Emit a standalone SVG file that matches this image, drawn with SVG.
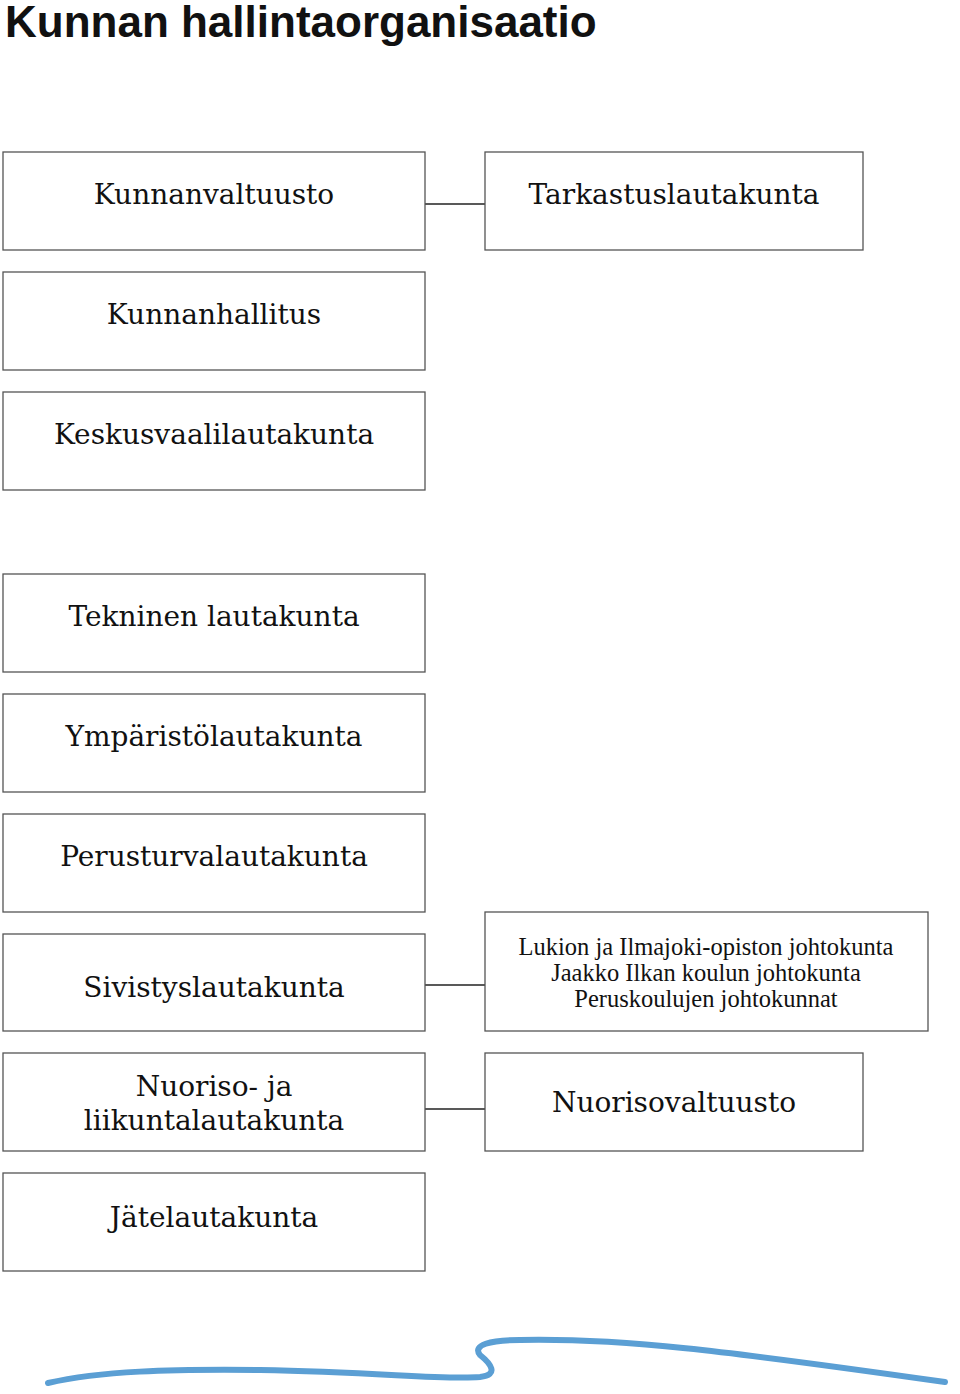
<svg xmlns="http://www.w3.org/2000/svg" width="960" height="1394" viewBox="0 0 960 1394">
<style>
.b{fill:#fff;stroke:#555;stroke-width:1.3}
.t{font-family:"DejaVu Serif",serif;font-size:28px;fill:#111;text-anchor:middle}
.s{font-family:"Liberation Serif",serif;font-size:24.5px;fill:#111;text-anchor:middle}
.c{stroke:#222;stroke-width:1.5;fill:none}
</style>
<rect width="960" height="1394" fill="#fff"/>
<text x="5" y="37" font-family="Liberation Sans,Arial,sans-serif" font-weight="bold" font-size="44" fill="#111">Kunnan hallintaorganisaatio</text>
<g id="connectors">
<line class="c" x1="425" y1="204" x2="485" y2="204"/>
<line class="c" x1="425" y1="985" x2="485" y2="985"/>
<line class="c" x1="425" y1="1109" x2="485" y2="1109"/>
</g>
<g id="n1"><rect class="b" x="3" y="152" width="422" height="98"/><text class="t" x="214" y="204">Kunnanvaltuusto</text></g>
<g id="n2"><rect class="b" x="485" y="152" width="378" height="98"/><text class="t" x="674" y="204">Tarkastuslautakunta</text></g>
<g id="n3"><rect class="b" x="3" y="272" width="422" height="98"/><text class="t" x="214" y="324">Kunnanhallitus</text></g>
<g id="n4"><rect class="b" x="3" y="392" width="422" height="98"/><text class="t" x="214" y="444">Keskusvaalilautakunta</text></g>
<g id="n5"><rect class="b" x="3" y="574" width="422" height="98"/><text class="t" x="214" y="626">Tekninen lautakunta</text></g>
<g id="n6"><rect class="b" x="3" y="694" width="422" height="98"/><text class="t" x="214" y="746">Ympäristölautakunta</text></g>
<g id="n7"><rect class="b" x="3" y="814" width="422" height="98"/><text class="t" x="214" y="866">Perusturvalautakunta</text></g>
<g id="n8"><rect class="b" x="3" y="934" width="422" height="97"/><text class="t" x="214" y="997">Sivistyslautakunta</text></g>
<g id="n9"><rect class="b" x="485" y="912" width="443" height="119"/><text class="s" x="706" y="955">Lukion ja Ilmajoki-opiston johtokunta</text><text class="s" x="706" y="981">Jaakko Ilkan koulun johtokunta</text><text class="s" x="706" y="1007">Peruskoulujen johtokunnat</text></g>
<g id="n10"><rect class="b" x="3" y="1053" width="422" height="98"/><text class="t" x="214" y="1096">Nuoriso- ja</text><text class="t" x="214" y="1130">liikuntalautakunta</text></g>
<g id="n11"><rect class="b" x="485" y="1053" width="378" height="98"/><text class="t" x="674" y="1112">Nuorisovaltuusto</text></g>
<g id="n12"><rect class="b" x="3" y="1173" width="422" height="98"/><text class="t" x="214" y="1227">Jätelautakunta</text></g>
<path d="M48 1383 C100 1371 170 1369 260 1370 C380 1372 440 1380 480 1377 C500 1375 490 1363 480 1355 C472 1345 490 1340 520 1340 C620 1338 720 1350 945 1382" fill="none" stroke="#5b9fd4" stroke-width="6" stroke-linecap="round"/>
</svg>
